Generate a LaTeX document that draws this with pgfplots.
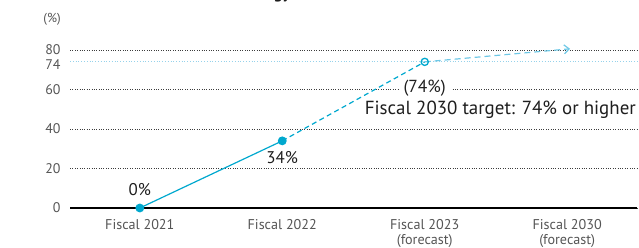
\documentclass[border=0pt]{standalone}
\usepackage{pgfplots}
\pgfplotsset{compat=1.18}
\usepackage{fontspec}
\setmainfont{PT Sans}
\usetikzlibrary{arrows.meta}
\definecolor{lineblue}{RGB}{0,168,206}
\definecolor{arrowblue}{RGB}{110,200,230}
\definecolor{targetblue}{RGB}{150,210,235}
\definecolor{tickgray}{RGB}{85,85,85}
\definecolor{gridgray}{RGB}{60,60,60}
\definecolor{txt}{RGB}{30,30,30}
\begin{document}
\begin{tikzpicture}
\useasboundingbox (-70bp,-40bp) rectangle (569bp,208bp);
\begin{axis}[
  at={(0,0)}, anchor=south west,
  scale only axis, width=567bp, height=158bp,
  xmin=-0.49, xmax=3.49, ymin=0, ymax=80,
  clip=false,
  axis line style={draw=none},
  major tick length=0pt,
  xtick={0,1,2,3},
  xticklabels={Fiscal 2021, Fiscal 2022, {Fiscal 2023\\(forecast)}, {Fiscal 2030\\(forecast)}},
  xticklabel style={font=\fontsize{14.2}{15}\selectfont, text=tickgray, align=center, anchor=north, yshift=-8bp},
  ytick={0,20,40,60,80},
  extra y ticks={74},
  extra y tick style={grid style={targetblue, dotted, line width=0.8bp}, yticklabel style={yshift=-3bp}},
  yticklabel style={font=\fontsize{14}{12}\selectfont, text=tickgray, xshift=-6bp},
  ymajorgrids,
  grid style={gridgray, dotted, line width=0.8bp},
  /pgf/number format/assume math mode=true,
]
\draw[black, line width=1.2bp] (axis cs:-0.49,0) -- (axis cs:3.49,0);
\addplot[lineblue, line width=1.2bp, mark=*, mark size=3.8bp, mark options={solid, fill=lineblue}] coordinates {(0,0) (1,34)};
\addplot[lineblue, line width=1.2bp, dash pattern=on 5bp off 3.5bp] coordinates {(1,34) (2,74)};
\addplot[arrowblue, line width=1.2bp, dash pattern=on 6bp off 4bp, -{Straight Barb[length=5bp, width=9bp, line width=1.2bp]}] coordinates {(2,74) (3.02,80.6)};
\addplot[lineblue, line width=1.3bp, only marks, mark=o, mark size=3.6bp, mark options={fill=white}] coordinates {(2,74)};
\node[font=\fontsize{17}{17}\selectfont, text=txt] at (axis cs:0,9.2) {0\%};
\node[font=\fontsize{17}{17}\selectfont, text=txt] at (axis cs:1,25.5) {34\%};
\node[font=\fontsize{17.5}{17}\selectfont, text=txt, fill=white, inner xsep=5bp, inner ysep=1bp] at (axis cs:2,60.5) {(74\%)};
\node[font=\fontsize{19}{19}\selectfont, text=txt, anchor=east, fill=white, inner sep=1bp] at (axis cs:3.49,49.5) {Fiscal 2030 target: 74\% or higher};
\node[font=\fontsize{13}{12}\selectfont, text=tickgray] at (axis cs:-0.616,95.5) {(\%)};
\node[font=\bfseries\fontsize{17}{17}\selectfont, text=txt, anchor=base east, inner sep=0pt] at (axis cs:1.061,106) {Ratio of renewable energy};
\end{axis}
\end{tikzpicture}
\end{document}
